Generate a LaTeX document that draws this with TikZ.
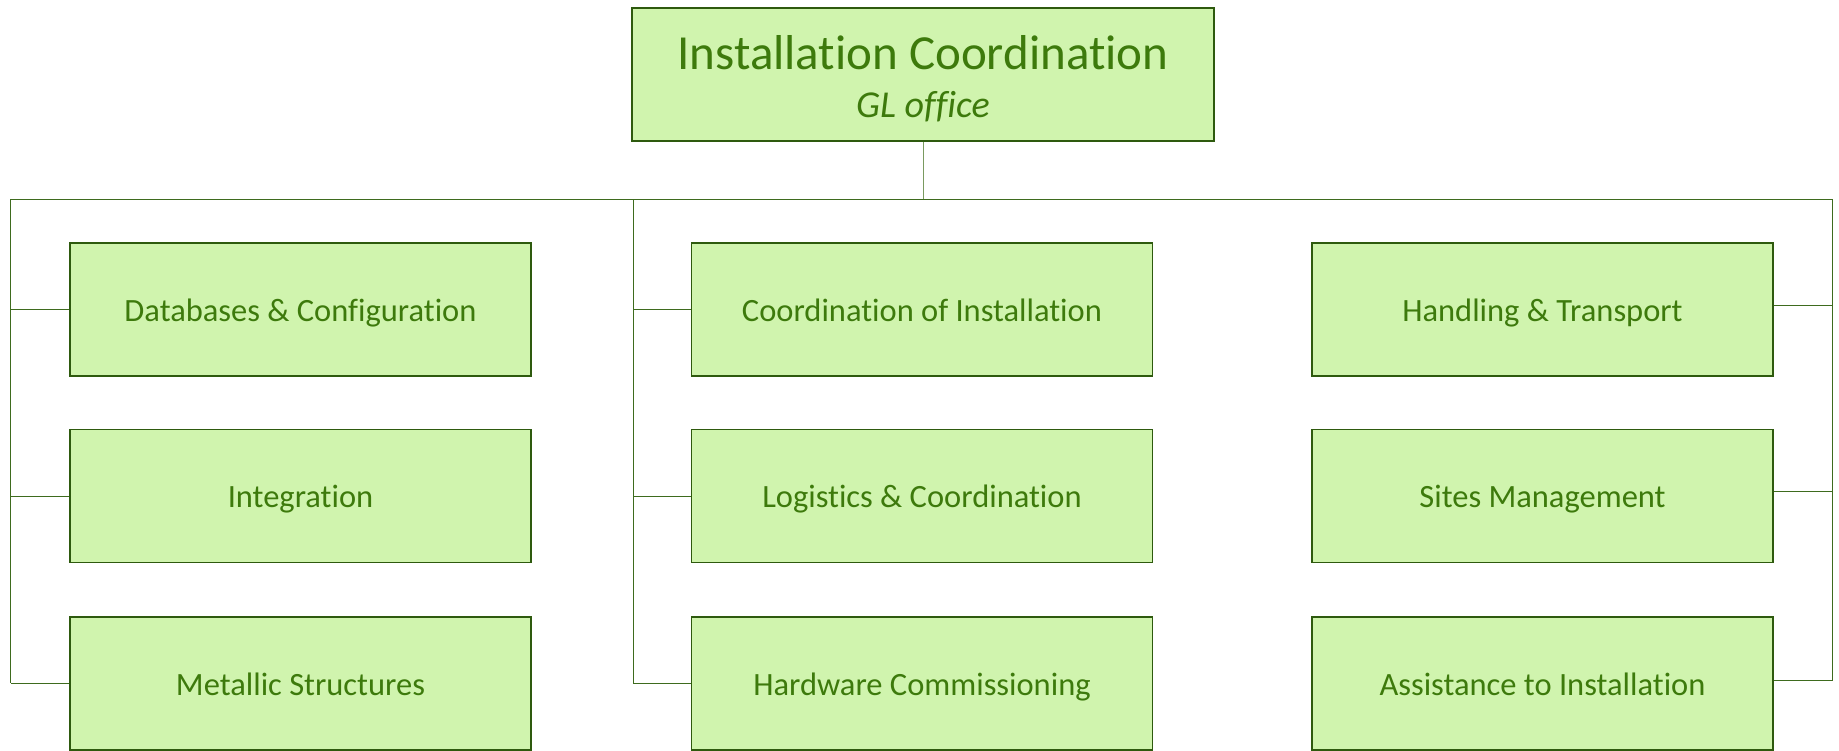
\documentclass[tikz,border=0pt]{standalone}
\usepackage{fontspec}
\setmainfont[Ligatures=NoCommon]{Carlito}
\definecolor{boxfill}{HTML}{D0F4AE}
\definecolor{boxline}{HTML}{2E5A0E}
\definecolor{txt}{HTML}{3D7A0C}
\definecolor{conn}{HTML}{3E6B1E}
\definecolor{trunkc}{HTML}{7A9A60}
\begin{document}
\begin{tikzpicture}[x=1pt,y=-1pt,
  unit/.style={draw=boxline,line width=1.8pt,fill=boxfill,text=txt,
    minimum width=461pt,minimum height=133pt,inner sep=0pt,
    text height=26pt,text depth=3pt,
    font=\fontsize{32.5}{38}\selectfont},
  head/.style={unit,minimum width=582pt},
  headtxt/.style={text=txt,inner sep=0pt,anchor=base},
  wire/.style={draw=conn,line width=1pt}]
\useasboundingbox (0,0) rectangle (1839,750);
\clip (0,0) rectangle (1839,750);
\node[head] (top) at (923,74.5) {};
\node[headtxt,font=\fontsize{49}{56}\selectfont] (toptitle) at (923,69) {Installation Coordination};
\node[headtxt,font=\fontsize{38}{44}\selectfont\itshape] (topsub) at (923,117) {GL office};
\node[unit] (a1) at (300.5,309.5) {Databases \& Configuration};
\node[unit] (a2) at (300.5,496) {Integration};
\node[unit] (a3) at (300.5,683.5) {Metallic Structures};
\node[unit] (b1) at (922,309.5) {Coordination of Installation};
\node[unit] (b2) at (922,496) {Logistics \& Coordination};
\node[unit] (b3) at (922,683.5) {Hardware Commissioning};
\node[unit] (c1) at (1542.5,309.5) {Handling \& Transport};
\node[unit] (c2) at (1542.5,496) {Sites Management};
\node[unit] (c3) at (1542.5,683.5) {Assistance to Installation};
\coordinate (j) at (923,199);
\coordinate (lt) at (10.5,199);
\coordinate (lb) at (10.5,683);
\coordinate (mt) at (633,199);
\coordinate (mb) at (633,683);
\coordinate (rt) at (1832,199);
\coordinate (rb) at (1832,681);
\draw[draw=trunkc,line width=1pt] (top.south) -- (j);
\draw[wire] (lt) -- (rt);
\draw[wire] (lt) -- (lb);
\draw[wire] (mt) -- (mb);
\draw[wire] (rt) -- (rb);
\foreach \n in {a1,a2,a3}{\draw[wire] (\n.west) -- (\n.west -| lt);}
\foreach \n in {b1,b2,b3}{\draw[wire] (\n.west) -- (\n.west -| mt);}
\draw[wire] ([yshift=4.5pt]c1.east) -- ([yshift=4.5pt]c1.east -| rt);
\draw[wire] ([yshift=5pt]c2.east) -- ([yshift=5pt]c2.east -| rt);
\draw[wire] ([yshift=3.5pt]c3.east) -- ([yshift=3.5pt]c3.east -| rt);
\end{tikzpicture}
\end{document}
